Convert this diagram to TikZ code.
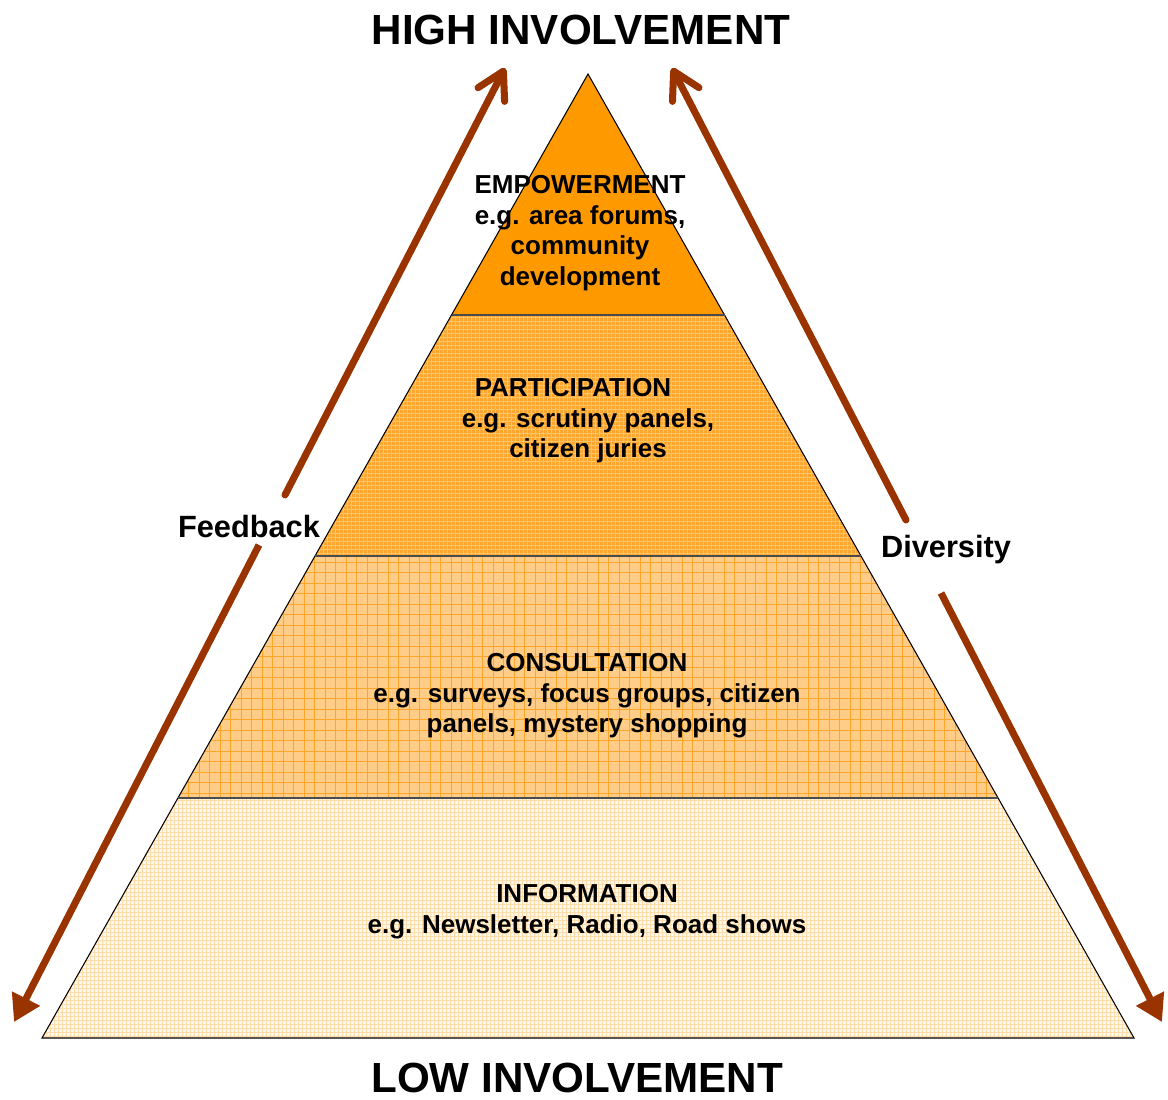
\documentclass[tikz,border=0pt]{standalone}
\usepackage{fontspec}
\setmainfont{Liberation Sans}
\usepackage{xcolor}
\usetikzlibrary{arrows.meta}

\definecolor{emporange}{HTML}{FF9900}
\definecolor{partorange}{HTML}{FFA62E}
\definecolor{partgrid}{HTML}{FFC466}
\definecolor{consorange}{HTML}{FFCD88}
\definecolor{consgrid}{HTML}{FFA52A}
\definecolor{infoorange}{HTML}{FFF8EE}
\definecolor{infogrid}{HTML}{FFDCA8}
\definecolor{arrowbrown}{HTML}{993300}

\tikzset{
	levellabel/.style={font=\bfseries\fontsize{14.8}{17.4}\selectfont,
		align=center, anchor=north, inner sep=0pt},
	sidelabel/.style={font=\bfseries\fontsize{17.5}{21}\selectfont, inner sep=0pt},
	endlabel/.style={font=\bfseries\fontsize{24}{28}\selectfont, anchor=base, inner sep=0pt},
	bigarrow/.style={arrowbrown, line width=4pt},
	lowhead/.style={-{Triangle[length=15pt,width=17pt]}},
	highhead/.style={line cap=round,
		-{Straight Barb[length=15pt,width=17pt,line cap=round,round]}},
	divider/.style={draw=black!70, line width=1.1pt},
}

\begin{document}
\begin{tikzpicture}[x=0.02cm,y=-0.02cm]
	\useasboundingbox (0,0) rectangle (1168,1099);
	
	% --- pyramid corners and band edges ---
	\coordinate (apex) at (588,74);
	\coordinate (e-l) at (451.5,315);  \coordinate (e-r) at (724.5,315);
	\coordinate (p-l) at (315,556);    \coordinate (p-r) at (861,556);
	\coordinate (c-l) at (178,798);    \coordinate (c-r) at (998,798);
	\coordinate (base-l) at (42,1038); \coordinate (base-r) at (1134,1038);
	
	% top band
	\fill[emporange] (apex) -- (e-r) -- (e-l) -- cycle;
	
	% participation band, fine plaid
	\begin{scope}
		\clip (e-l) -- (e-r) -- (p-r) -- (p-l) -- cycle;
		\fill[partorange] (e-l) -- (e-r) -- (p-r) -- (p-l) -- cycle;
		\foreach \gx in {315,319,...,861}
		\draw[partgrid, line width=0.4pt] (\gx,315) -- (\gx,556);
		\foreach \gy in {317,321,...,556}
		\draw[partgrid, line width=0.4pt] (315,\gy) -- (861,\gy);
	\end{scope}
	
	% consultation band, coarse grid
	\begin{scope}
		\clip (p-l) -- (p-r) -- (c-r) -- (c-l) -- cycle;
		\fill[consorange] (p-l) -- (p-r) -- (c-r) -- (c-l) -- cycle;
		\foreach \gx in {178,188.5,...,998}
		\draw[consgrid, line width=0.5pt] (\gx,556) -- (\gx,798);
		\foreach \gy in {562,572.5,...,798}
		\draw[consgrid, line width=0.5pt] (178,\gy) -- (998,\gy);
	\end{scope}
	
	% information band, dotted grid
	\begin{scope}
		\clip (c-l) -- (c-r) -- (base-r) -- (base-l) -- cycle;
		\fill[infoorange] (c-l) -- (c-r) -- (base-r) -- (base-l) -- cycle;
		\foreach \gx in {42,46,...,1134}
		\draw[infogrid, line width=0.5pt] (\gx,798) -- (\gx,1038);
		\foreach \gy in {800,804,...,1038}
		\draw[infogrid, line width=0.5pt] (42,\gy) -- (1134,\gy);
	\end{scope}
	
	% outline and dividers
	\draw[black, line width=0.6pt] (apex) -- (base-r) -- (base-l) -- cycle;
	\draw[divider] (e-l) -- (e-r);
	\draw[divider] (p-l) -- (p-r);
	\draw[divider] (c-l) -- (c-r);
	
	% --- level texts ---
	\node[levellabel] (empowerment) at (580,175)
	{EMPOWERMENT\\e.g. area forums,\\community\\development};
	\node[levellabel] (participation) at (588,378)
	{PARTICIPATION\hspace*{0.6cm}\\e.g. scrutiny panels,\\citizen juries};
	\node[levellabel] (consultation) at (587,653)
	{CONSULTATION\\e.g. surveys, focus groups, citizen\\panels, mystery shopping};
	\node[levellabel] (information) at (587,884)
	{INFORMATION\\e.g. Newsletter, Radio, Road shows};
	
	% --- top and bottom headings ---
	\node[endlabel] (high) at (581,44) {HIGH INVOLVEMENT};
	\node[endlabel] (low) at (577,1092) {LOW INVOLVEMENT};
	
	% --- Feedback arrow (left) ---
	\node[sidelabel] (feedback) at (249,526) {Feedback};
	\coordinate (fb-low) at (14,1022);
	\coordinate (fb-gap1) at (259,545);
	\coordinate (fb-gap2) at (285,495);
	\coordinate (fb-high) at (505,68);
	\draw[bigarrow,lowhead] (fb-gap1) -- (fb-low);
	\draw[bigarrow,highhead] (fb-gap2) -- (fb-high);
	
	% --- Diversity arrow (right) ---
	\node[sidelabel] (diversity) at (946,550) {Diversity};
	\coordinate (dv-high) at (672,68);
	\coordinate (dv-gap1) at (906,520);
	\coordinate (dv-gap2) at (941,593);
	\coordinate (dv-low) at (1162,1022);
	\draw[bigarrow,highhead] (dv-gap1) -- (dv-high);
	\draw[bigarrow,lowhead] (dv-gap2) -- (dv-low);
	
\end{tikzpicture}
\end{document}
